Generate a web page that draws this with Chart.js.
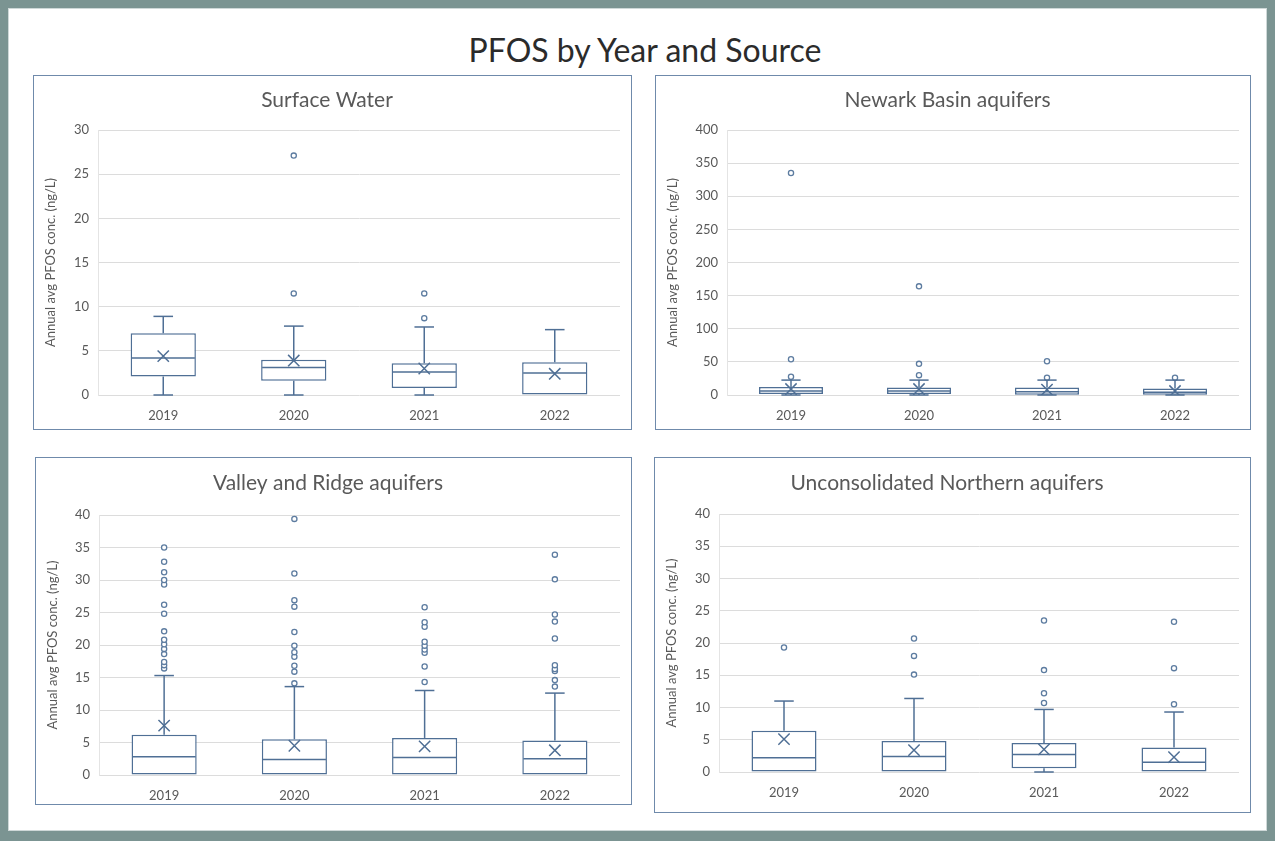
<!DOCTYPE html>
<html>
<head>
<meta charset="utf-8">
<script src="https://cdn.jsdelivr.net/npm/chart.js@4/dist/chart.umd.min.js"></script>
<style>
  body { margin: 0; background: #7b9492; width: 1275px; height: 841px; overflow: hidden; }
  #page { position: absolute; left: 8px; top: 8px; width: 1257px; height: 821px; background: #fff; border: 1px solid #cfd8d8; }
  #mainTitle { position: absolute; left: 0; top: 30px; width: 1290px; text-align: center; font-family: Lato, sans-serif; font-size: 32px; line-height: 40px; color: #2b2b2b; }
  .panel { position: absolute; box-sizing: border-box; border: 1.5px solid #6f8aab; background: #fff; }
  .panel canvas { position: absolute; left: 0; top: 0; }
</style>
</head>
<body>
<div id="page"></div>
<div id="mainTitle">PFOS by Year and Source</div>
<div class="panel" id="p1" style="left:33px;top:75px;width:599px;height:355px;"><canvas id="c1"></canvas></div>
<div class="panel" id="p2" style="left:655px;top:75px;width:596px;height:355px;"><canvas id="c2"></canvas></div>
<div class="panel" id="p3" style="left:35px;top:457px;width:597px;height:348px;"><canvas id="c3"></canvas></div>
<div class="panel" id="p4" style="left:654px;top:457px;width:597px;height:356px;"><canvas id="c4"></canvas></div>
<script>
// Categories
const years = ['2019', '2020', '2021', '2022'];

// Surface Water
const swLow = [0, 0, 0, 0];
const swQ1 = [2.1, 1.6, 0.8, 0];
const swMed = [4.2, 3.1, 2.6, 2.5];
const swQ3 = [7.0, 4.0, 3.6, 3.7];
const swHigh = [8.9, 7.8, 7.7, 7.4];
const swMean = [4.4, 3.9, 3.0, 2.4];
const swOut = [[], [11.5, 27.1], [8.7, 11.5], []];

// Newark Basin aquifers
const nbLow = [0, 0, 0, 0];
const nbQ1 = [1.5, 1.5, 0.5, 0.5];
const nbMed = [6, 6, 5, 4];
const nbQ3 = [12, 11.5, 11.5, 10];
const nbHigh = [22.5, 22.5, 22.5, 22.5];
const nbMean = [9, 9, 8, 6];
const nbOut = [[27.5, 54, 335], [30, 47, 164], [26, 51], [26]];

// Valley and Ridge aquifers
const vrLow = [0, 0, 0, 0];
const vrQ1 = [0, 0, 0, 0];
const vrMed = [2.8, 2.4, 2.7, 2.5];
const vrQ3 = [6.2, 5.5, 5.7, 5.3];
const vrHigh = [15.3, 13.6, 13.0, 12.6];
const vrMean = [7.6, 4.5, 4.4, 3.8];
const vrOut = [
    [16.4, 16.9, 17.4, 18.6, 19.4, 20.1, 20.8, 22.1, 24.8, 26.2, 29.3, 30.0, 31.2, 32.8, 35.0],
    [14.1, 15.9, 16.8, 18.2, 18.9, 19.9, 22.0, 25.9, 26.9, 31.0, 39.4],
    [14.3, 16.7, 18.8, 19.3, 19.9, 20.5, 22.8, 23.5, 25.8],
    [13.6, 14.6, 16.0, 16.3, 16.9, 21.0, 23.6, 24.7, 30.1, 33.9]
];

// Unconsolidated Northern aquifers
const unLow = [0, 0, 0, 0];
const unQ1 = [0, 0, 0.6, 0];
const unMed = [2.2, 2.4, 2.7, 1.5];
const unQ3 = [6.4, 4.8, 4.5, 3.8];
const unHigh = [11.0, 11.4, 9.7, 9.3];
const unMean = [5.1, 3.4, 3.5, 2.3];
const unOut = [[19.3], [15.1, 18.0, 20.7], [10.7, 12.2, 15.8, 23.5], [10.5, 16.1, 23.3]];

const LINE = '#4f6f95';
const TEXT = '#595959';
const FONT = 'Lato, sans-serif';

// Draws median lines and whiskers from the box dataset's bar elements
const boxWhiskers = {
    id: 'boxWhiskers',
    afterDatasetsDraw(chart, args, opts) {
        const ctx = chart.ctx;
        const y = chart.scales.y;
        const bars = chart.getDatasetMeta(0).data;
        ctx.save();
        ctx.strokeStyle = LINE;
        ctx.lineWidth = 1.5;
        const seg = (x1, y1, x2, y2) => {
            ctx.beginPath();
            ctx.moveTo(x1, y1);
            ctx.lineTo(x2, y2);
            ctx.stroke();
        };
        bars.forEach((bar, i) => {
            const half = bar.width / 2;
            const cap = bar.width * 0.15;
            const yMed = y.getPixelForValue(opts.med[i]);
            seg(bar.x - half + 1, yMed, bar.x + half - 1, yMed);
            const yQ3 = y.getPixelForValue(opts.q3[i]);
            const yHi = y.getPixelForValue(opts.high[i]);
            if (opts.high[i] > opts.q3[i]) {
                seg(bar.x, yQ3, bar.x, yHi);
                seg(bar.x - cap, yHi, bar.x + cap, yHi);
            }
            if (opts.low[i] < opts.q1[i]) {
                const yQ1 = y.getPixelForValue(opts.q1[i]);
                const yLo = y.getPixelForValue(opts.low[i]);
                seg(bar.x, yQ1, bar.x, yLo);
                seg(bar.x - cap, yLo, bar.x + cap, yLo);
            }
        });
        ctx.restore();
    }
};

function makeChart(id, cfg) {
    const panel = document.getElementById('p' + id);
    const canvas = document.getElementById('c' + id);
    canvas.width = panel.clientWidth;
    canvas.height = panel.clientHeight;

    const outPoints = [];
    cfg.out.forEach((list, i) => list.forEach(v => outPoints.push({ x: years[i], y: v })));

    new Chart(canvas.getContext('2d'), {
        type: 'bar',
        data: {
            labels: years,
            datasets: [{
                type: 'bar',
                data: cfg.q1.map((v, i) => [v, cfg.q3[i]]),
                backgroundColor: '#ffffff',
                borderColor: LINE,
                borderWidth: 1.5,
                borderSkipped: false,
                barPercentage: 0.5,
                categoryPercentage: 1,
                order: 3
            }, {
                type: 'line',
                data: cfg.mean,
                showLine: false,
                pointStyle: 'crossRot',
                pointRadius: 8,
                borderColor: LINE,
                borderWidth: 1.5,
                order: 1
            }, {
                type: 'line',
                data: outPoints,
                showLine: false,
                pointStyle: 'circle',
                pointRadius: 2.6,
                borderColor: '#5d7ca0',
                backgroundColor: '#ffffff',
                borderWidth: 1.3,
                order: 2
            }]
        },
        options: {
            responsive: false,
            animation: false,
            layout: { padding: { left: 0, right: cfg.padRight, top: 0, bottom: 0 } },
            plugins: {
                legend: { display: false },
                tooltip: { enabled: false },
                title: {
                    display: true,
                    text: cfg.title,
                    color: TEXT,
                    font: { family: FONT, size: 21, weight: 'normal', lineHeight: 1.2 },
                    padding: { top: cfg.titleTop, bottom: cfg.plotTop - cfg.titleTop - 25.2 }
                },
                boxWhiskers: { low: cfg.low, q1: cfg.q1, med: cfg.med, q3: cfg.q3, high: cfg.high }
            },
            scales: {
                x: {
                    grid: { display: false, drawTicks: false },
                    border: { display: false },
                    ticks: { color: TEXT, font: { family: FONT, size: 13 }, padding: 13 },
                    afterFit: (scale) => { scale.height = cfg.bottom; }
                },
                y: {
                    min: 0,
                    max: cfg.max,
                    ticks: { stepSize: cfg.step, color: TEXT, font: { family: FONT, size: 13 }, padding: 9 },
                    grid: { color: '#dcdcdc', lineWidth: 1, drawTicks: false },
                    border: { display: true, color: '#e4e4e4' },
                    title: {
                        display: true,
                        text: 'Annual avg PFOS conc. (ng/L)',
                        color: TEXT,
                        font: { family: FONT, size: 13 },
                        padding: { top: 9, bottom: 0 }
                    },
                    afterFit: (scale) => { scale.width = cfg.left; }
                }
            }
        },
        plugins: [boxWhiskers]
    });
}

makeChart(1, {
    title: 'Surface Water', max: 30, step: 5,
    low: swLow, q1: swQ1, med: swMed, q3: swQ3, high: swHigh, mean: swMean, out: swOut,
    left: 64, padRight: 11, titleTop: 12, plotTop: 54, bottom: 34
});
makeChart(2, {
    title: 'Newark Basin aquifers', max: 400, step: 50,
    low: nbLow, q1: nbQ1, med: nbMed, q3: nbQ3, high: nbHigh, mean: nbMean, out: nbOut,
    left: 71, padRight: 11, titleTop: 12, plotTop: 54, bottom: 34
});
makeChart(3, {
    title: 'Valley and Ridge aquifers', max: 40, step: 5,
    low: vrLow, q1: vrQ1, med: vrMed, q3: vrQ3, high: vrHigh, mean: vrMean, out: vrOut,
    left: 63, padRight: 11, titleTop: 13, plotTop: 57, bottom: 29
});
makeChart(4, {
    title: 'Unconsolidated Northern aquifers', max: 40, step: 5,
    low: unLow, q1: unQ1, med: unMed, q3: unQ3, high: unHigh, mean: unMean, out: unOut,
    left: 64, padRight: 11, titleTop: 13, plotTop: 56, bottom: 40
});
</script>
</body>
</html>
